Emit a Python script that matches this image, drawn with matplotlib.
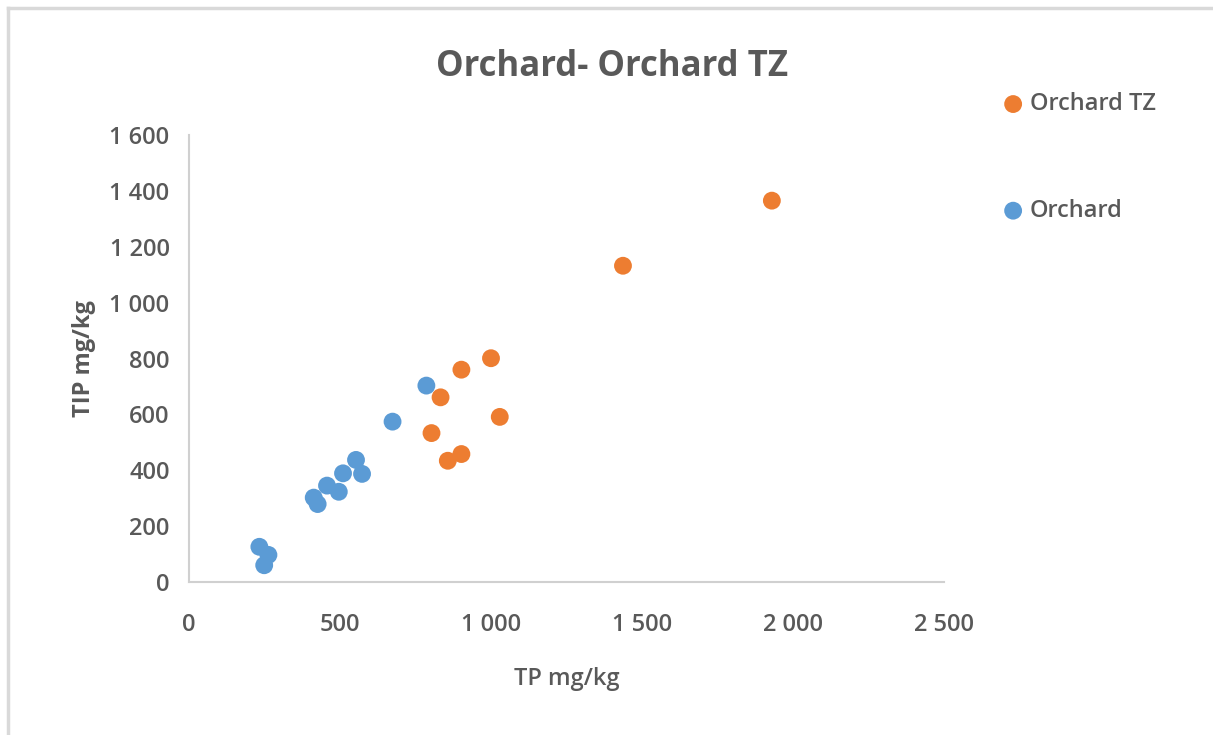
import matplotlib.pyplot as plt
from matplotlib.lines import Line2D
from matplotlib.ticker import FuncFormatter

# Orchard series (TP, TIP in mg/kg)
orchard_tp = [786, 674, 553, 573, 510, 457, 496, 413, 426, 233, 263, 249]
orchard_tip = [703, 574, 437, 387, 389, 345, 323, 302, 279, 126, 97, 60]

# Orchard TZ series
tz_tp = [1930, 1437, 1000, 902, 833, 1029, 803, 902, 857]
tz_tip = [1365, 1132, 801, 760, 661, 591, 533, 458, 434]

x_ticks = [0, 500, 1000, 1500, 2000, 2500]
y_ticks = [0, 200, 400, 600, 800, 1000, 1200, 1400, 1600]

plt.rcParams['font.family'] = ['Open Sans', 'DejaVu Sans']
text_col = '#595959'
blue = '#5B9BD5'
orange = '#ED7D31'

fig = plt.figure(figsize=(12.13, 7.35), dpi=100)
ax = fig.add_axes([189 / 1213, 153 / 735, 755 / 1213, 447 / 735])

h_blue = ax.scatter(orchard_tp, orchard_tip, s=165, color=blue, edgecolors='none', label='Orchard', zorder=3)
h_orange = ax.scatter(tz_tp, tz_tip, s=165, color=orange, edgecolors='none', label='Orchard TZ', zorder=4)

ax.set_xlim(0, 2500)
ax.set_ylim(0, 1600)
ax.set_xticks(x_ticks)
ax.set_yticks(y_ticks)
fmt = FuncFormatter(lambda v, p: f'{int(v):,}'.replace(',', ' '))
ax.xaxis.set_major_formatter(fmt)
ax.yaxis.set_major_formatter(fmt)
ax.tick_params(length=0, labelsize=17, labelcolor=text_col, pad=14)
for lab in ax.get_xticklabels() + ax.get_yticklabels():
    lab.set_fontweight('semibold')
ax.xaxis.set_tick_params(pad=22)

for side in ['top', 'right']:
    ax.spines[side].set_visible(False)
for side in ['left', 'bottom']:
    ax.spines[side].set_color('#D0D0D0')
    ax.spines[side].set_linewidth(1.5)

ax.set_xlabel('TP mg/kg', fontsize=17, color=text_col, fontweight='semibold', labelpad=22)
ax.set_ylabel('TIP mg/kg', fontsize=17, color=text_col, fontweight='bold', labelpad=10)

fig.text(612 / 1213, 1 - 67 / 735, 'Orchard- Orchard TZ', ha='center', va='center',
         fontsize=25, color=text_col, fontweight='bold')

fig.legend(handles=[h_orange, h_blue], labels=['Orchard TZ', 'Orchard'],
           loc='upper left', bbox_to_anchor=(973 / 1213, 1 - 71 / 735),
           frameon=False, labelcolor=text_col, labelspacing=3.5,
           handletextpad=-0.1, handlelength=1.6, markerscale=1.0,
           prop={'weight': 'semibold', 'size': 17})

# chart border (light gray)
fig.add_artist(Line2D([8 / 1213, 8 / 1213], [0, 1 - 8 / 735], transform=fig.transFigure,
                      color='#D9D9D9', lw=2.5))
fig.add_artist(Line2D([8 / 1213, 1], [1 - 8 / 735, 1 - 8 / 735], transform=fig.transFigure,
                      color='#D9D9D9', lw=2.5))

fig.savefig('out.png', dpi=100)
